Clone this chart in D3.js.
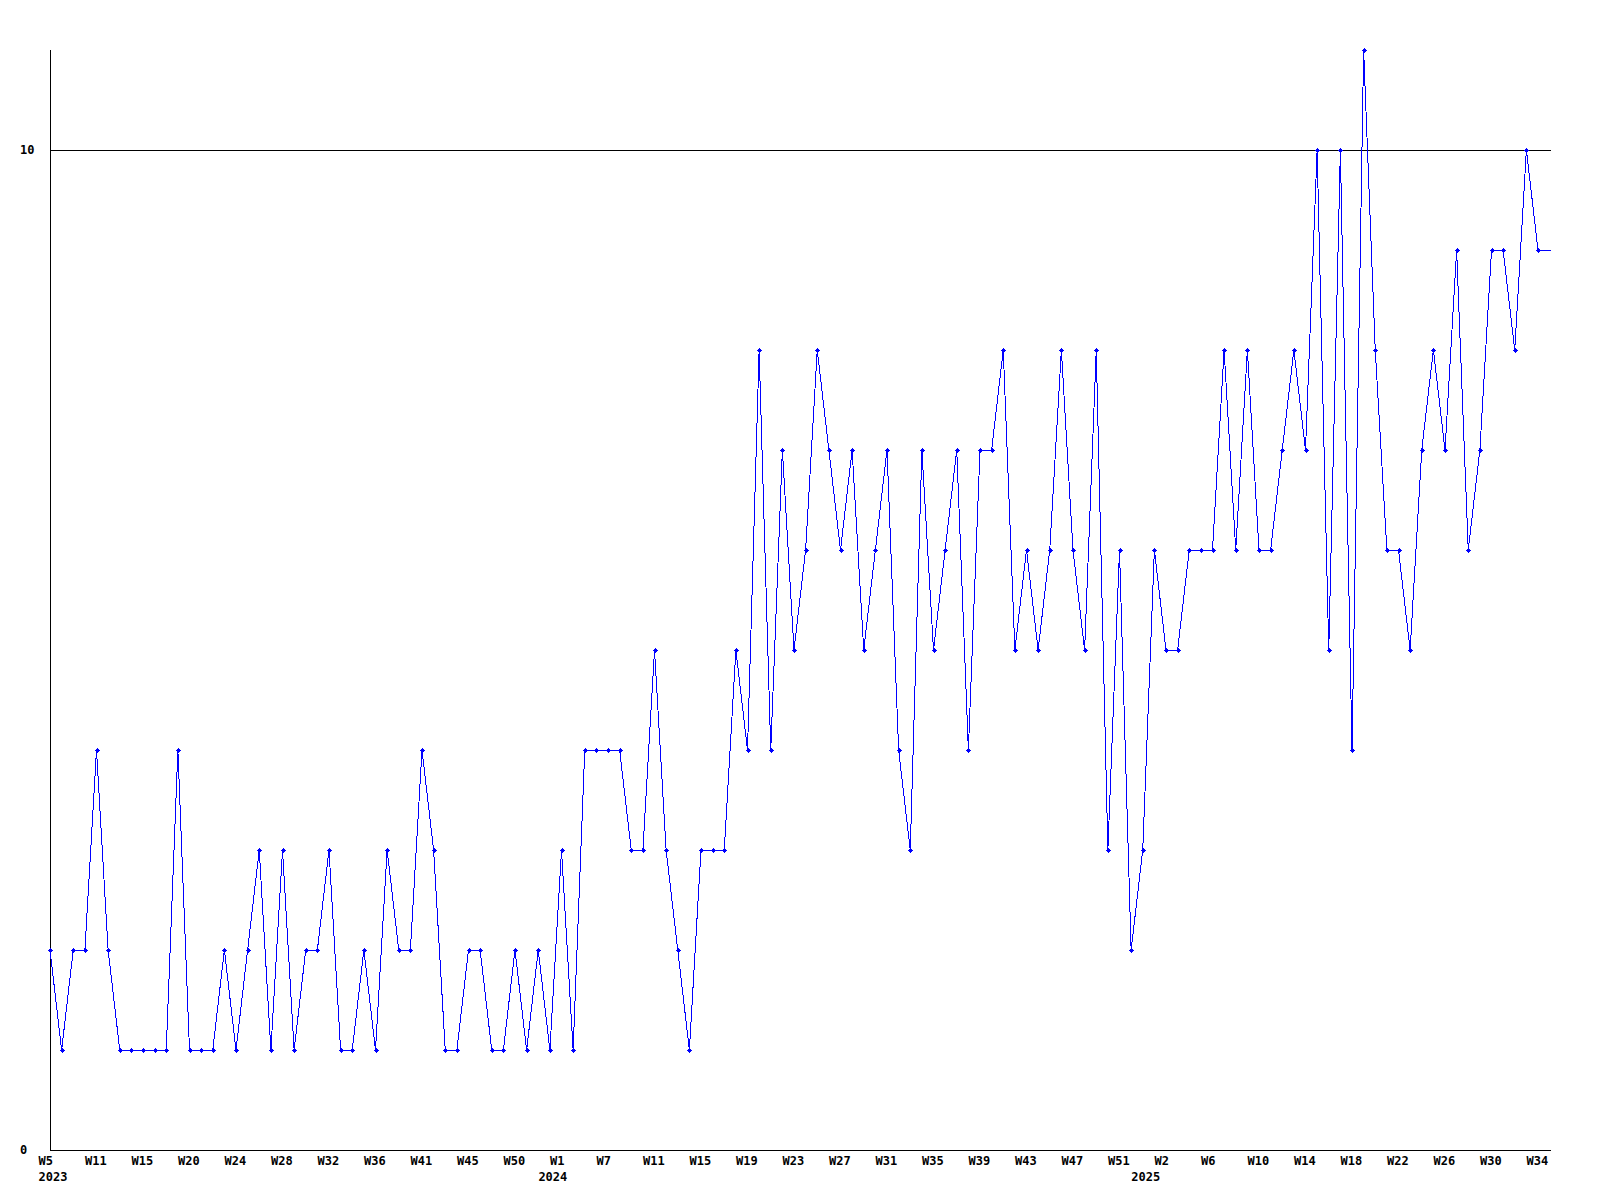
<!DOCTYPE html>
<html>
<head>
<meta charset="utf-8">
<script src="https://cdn.jsdelivr.net/npm/d3@7"></script>
<style>
  html, body { margin: 0; padding: 0; background: #ffffff; }
  svg { display: block; }
  text { font-family: "DejaVu Sans Mono", "Liberation Mono", monospace; font-weight: bold; font-size: 12px; fill: #000; }
</style>
</head>
<body>
<svg id="chart" width="1600" height="1200"></svg>
<script>
// ---- data ----
const values = [
  2,1,2,2,4,2,1,1,1,1,1,4,1,1,1,2,1,2,3,1,3,1,2,2,3,
  1,1,2,1,3,2,2,4,3,1,1,2,2,1,1,2,1,2,1,3,1,4,4,4,
  4,3,3,5,3,2,1,3,3,3,5,4,8,4,7,5,6,8,7,6,7,5,6,7,4,
  3,7,5,6,7,4,7,7,8,5,6,5,6,8,6,5,8,3,6,2,3,6,5,5,
  6,6,6,8,6,8,6,6,7,8,7,10,5,10,4,11,8,6,6,
  5,7,8,7,9,6,7,9,9,8,10,9
];
const tickLabels = ["W5","W11","W15","W20","W24","W28","W32","W36","W41","W45","W50",
  "W1","W7","W11","W15","W19","W23","W27","W31","W35","W39","W43","W47","W51",
  "W2","W6","W10","W14","W18","W22","W26","W30","W34"];
const tickEvery = 4;
const years = ["2023","2024","2025"];
const yearStartIndex = [0, 43, 94];
const yTicks = [0, 10];
const yMax = 11;

// ---- layout ----
const svg = d3.select("#chart");
const plotLeft = 50, plotRight = 1551, plotTop = 50, plotBottom = 1150;
const lastX = 1538;

const x = d3.scaleLinear().domain([0, values.length - 1]).range([plotLeft, lastX]);
const y = d3.scaleLinear().domain([0, yMax]).range([plotBottom, plotTop]);

svg.append("rect").attr("width", 1600).attr("height", 1200).attr("fill", "#fff");

// gridline at labeled non-zero ticks
svg.append("g").selectAll("line").data(yTicks.filter(d => d > 0)).join("line")
  .attr("x1", plotLeft).attr("x2", plotRight)
  .attr("y1", d => Math.round(y(d)) + 0.5).attr("y2", d => Math.round(y(d)) + 0.5)
  .attr("stroke", "#000").attr("stroke-width", 1).attr("shape-rendering", "crispEdges");

// axes lines
svg.append("line").attr("x1", plotLeft + 0.5).attr("x2", plotLeft + 0.5).attr("y1", plotTop).attr("y2", plotBottom + 0.5)
  .attr("stroke", "#000").attr("shape-rendering", "crispEdges");
svg.append("line").attr("x1", plotLeft).attr("x2", plotRight).attr("y1", plotBottom + 0.5).attr("y2", plotBottom + 0.5)
  .attr("stroke", "#000").attr("shape-rendering", "crispEdges");

// y labels
svg.append("g").selectAll("text").data(yTicks).join("text")
  .attr("x", 20)
  .attr("y", d => y(d))
  .attr("dy", "0.35em")
  .text(d => d);

// x tick labels
svg.append("g").selectAll("text").data(tickLabels).join("text")
  .attr("x", (d, i) => x(i * tickEvery) - 11.5)
  .attr("y", 1161)
  .attr("dy", "0.35em")
  .text(d => d);

// year labels
svg.append("g").selectAll("text").data(years).join("text")
  .attr("x", (d, i) => x(yearStartIndex[i]) - 11.5)
  .attr("y", 1177)
  .attr("dy", "0.35em")
  .text(d => d);

// data line (held at last value to right edge of plot)
const pts = values.map((v, i) => [x(i), y(v)]);
pts.push([plotRight, y(values[values.length - 1])]);
svg.append("path")
  .attr("d", d3.line()(pts))
  .attr("fill", "none").attr("stroke", "#0000ff").attr("stroke-width", 1)
  .attr("shape-rendering", "crispEdges");

// markers
const marker = "M-2.5,-0.5h1v-1h1v-1h1v1h1v1h1v1h-1v1h-1v1h-1v-1h-1v-1h-1z";
svg.append("g").selectAll("path").data(values).join("path")
  .attr("transform", (d, i) => `translate(${Math.round(x(i))},${Math.round(y(d))})`)
  .attr("d", marker)
  .attr("fill", "#0000ff")
  .attr("shape-rendering", "crispEdges");
</script>
</body>
</html>
